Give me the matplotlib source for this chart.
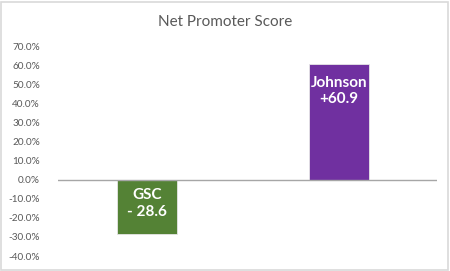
import matplotlib
matplotlib.use("Agg")
import matplotlib.pyplot as plt
from matplotlib.patches import Rectangle

categories = ["GSC", "Johnson"]
values = [-28.6, 60.9]
labels = ["GSC\n- 28.6", "Johnson\n+60.9"]
colors = ["#548235", "#7030A0"]
yticks = [70, 60, 50, 40, 30, 20, 10, 0, -10, -20, -30, -40]

plt.rcParams['font.family'] = ['Lato', 'DejaVu Sans']

fig = plt.figure(figsize=(4.5, 2.71), dpi=100)
fig.patch.set_facecolor("white")
fig.patches.append(Rectangle((0.003, 0.004), 0.993, 0.99, transform=fig.transFigure,
                             fill=False, edgecolor="#d9d9d9", linewidth=1.2))

ax = fig.add_axes([58/450, 1-256/271, (437-58)/450, (256-46.5)/271])
x = list(range(len(categories)))
ax.bar(x, values, width=0.3125, color=colors, edgecolor="#e6e6e6", linewidth=0.6, zorder=2)
ax.set_xlim(-0.464, 1.51)
ax.set_ylim(-40, 70)
ax.set_yticks(yticks)
ax.set_yticklabels([f"{t:.1f}%" for t in yticks], fontsize=7.2, color="#595959")
ax.tick_params(axis="y", length=0, pad=13)
ax.set_xticks([])
for s in ax.spines.values():
    s.set_visible(False)
ax.axhline(0, color="#a6a6a6", linewidth=1, zorder=3)

for xi, v, lab in zip(x, values, labels):
    if v < 0:
        ax.text(xi, -12.3, lab, ha="center", va="center", color="white", fontsize=11,
                fontweight="bold", linespacing=1.25)
    else:
        ax.text(xi, v - 14.3, lab, ha="center", va="center", color="white", fontsize=11,
                fontweight="bold", linespacing=1.25)

fig.text(0.5, 1-22/271, "Net Promoter Score", ha="center", va="center",
         fontsize=11, color="#595959")

fig.savefig("out.png", dpi=100)
